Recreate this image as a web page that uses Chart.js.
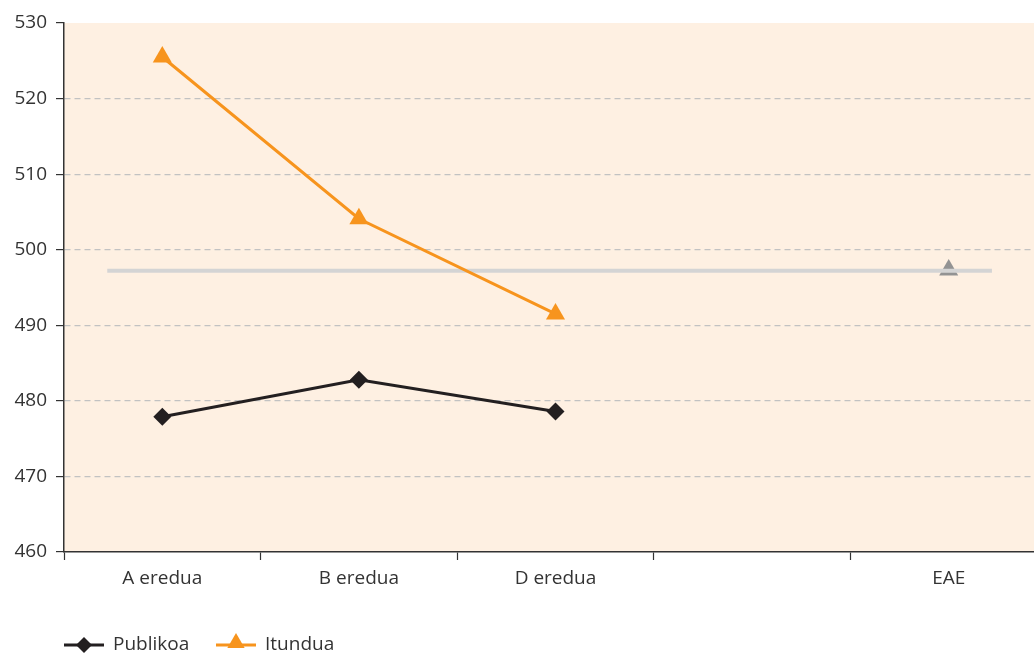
<!DOCTYPE html>
<html>
<head>
<meta charset="utf-8">
<script src="https://cdn.jsdelivr.net/npm/chart.js@4.4.0/dist/chart.umd.min.js"></script>
<style>
  html, body { margin: 0; padding: 0; background: #ffffff; overflow: hidden; }
  #wrap { width: 1058px; height: 655px; position: relative; }
</style>
</head>
<body>
<div id="wrap"><canvas id="eredua"></canvas></div>
<script>
const categories = ["A eredua", "B eredua", "D eredua", "", "EAE"];
const publikoa = [477.9, 482.8, 478.6, null, null];
const itundua = [525.5, 504.1, 491.5, null, null];
const eaePoint = [null, null, null, null, 497.3];
const eaeMean = 497.2;
const eaeLineFrom = -0.28;
const eaeLineTo = 4.22;
const yTicks = [460, 470, 480, 490, 500, 510, 520, 530];

const textColor = "#333333";
const fontFamily = "'Open Sans', 'DejaVu Sans', sans-serif";

const plotBackground = {
  id: "plotBackground",
  beforeDraw(chart) {
    const { ctx, chartArea } = chart;
    ctx.save();
    ctx.fillStyle = "#fef0e2";
    ctx.fillRect(chartArea.left, chartArea.top, chartArea.right - chartArea.left, chartArea.bottom - chartArea.top);
    ctx.restore();
  },
};

function drawMarker(ctx, style, x, y, r) {
  ctx.beginPath();
  if (style === "rectRot") {
    ctx.moveTo(x - r, y);
    ctx.lineTo(x, y - r);
    ctx.lineTo(x + r, y);
    ctx.lineTo(x, y + r);
  } else {
    ctx.moveTo(x, y - r);
    ctx.lineTo(x + r * 0.866, y + r * 0.5);
    ctx.lineTo(x - r * 0.866, y + r * 0.5);
  }
  ctx.closePath();
  ctx.fill();
}

const bottomLegend = {
  id: "bottomLegend",
  afterDraw(chart) {
    const { ctx, chartArea } = chart;
    const y = chartArea.bottom + 93;
    const items = [
      { text: "Publikoa", color: "#231f20", style: "rectRot", r: 8, x: 64 },
      { text: "Itundua", color: "#f7941d", style: "triangle", r: 10, x: 216 },
    ];
    ctx.save();
    ctx.font = "19px " + fontFamily;
    ctx.textBaseline = "middle";
    items.forEach((it) => {
      ctx.strokeStyle = it.color;
      ctx.fillStyle = it.color;
      ctx.lineWidth = 3;
      ctx.beginPath();
      ctx.moveTo(it.x, y);
      ctx.lineTo(it.x + 40, y);
      ctx.stroke();
      drawMarker(ctx, it.style, it.x + 20, it.style === "triangle" ? y - 2 : y, it.r);
      ctx.fillStyle = textColor;
      ctx.fillText(it.text, it.x + 49, y);
    });
    ctx.restore();
  },
};

const ctx = document.getElementById("eredua");

new Chart(ctx, {
  type: "line",
  data: {
    labels: categories,
    datasets: [
      {
        label: "Publikoa",
        data: publikoa,
        borderColor: "#231f20",
        backgroundColor: "#231f20",
        borderWidth: 3,
        pointStyle: "rectRot",
        pointRadius: 9,
        pointBorderWidth: 0,
        xAxisID: "x",
      },
      {
        label: "Itundua",
        data: itundua,
        borderColor: "#f7941d",
        backgroundColor: "#f7941d",
        borderWidth: 3,
        pointStyle: "triangle",
        pointRadius: 11,
        pointBorderWidth: 0,
        xAxisID: "x",
      },
      {
        label: "EAE batez bestekoa",
        data: [
          { x: eaeLineFrom, y: eaeMean },
          { x: eaeLineTo, y: eaeMean },
        ],
        borderColor: "#d4d4d4",
        borderWidth: 4,
        pointRadius: 0,
        xAxisID: "x2",
      },
      {
        label: "EAE",
        data: eaePoint,
        borderColor: "#939393",
        backgroundColor: "#939393",
        showLine: false,
        pointStyle: "triangle",
        pointRadius: 11,
        pointBorderWidth: 0,
        xAxisID: "x",
      },
    ],
  },
  options: {
    responsive: true,
    maintainAspectRatio: false,
    animation: false,
    layout: {
      padding: { top: 23, right: 0, bottom: 43, left: 0 },
    },
    plugins: {
      legend: { display: false },
      tooltip: { enabled: false },
    },
    scales: {
      x: {
        type: "category",
        offset: true,
        grid: {
          offset: true,
          drawOnChartArea: false,
          tickLength: 8,
          tickColor: "#333333",
          tickWidth: 1.2,
        },
        border: { color: "#333333", width: 1.5 },
        ticks: {
          color: textColor,
          padding: 7,
          maxRotation: 0,
          font: { family: fontFamily, size: 19 },
        },
        afterFit(scale) {
          scale.height = 60;
        },
      },
      x2: {
        type: "linear",
        display: false,
        min: -0.5,
        max: 4.5,
      },
      y: {
        min: 460,
        max: 530,
        afterBuildTicks(scale) {
          scale.ticks = yTicks.map((v) => ({ value: v }));
        },
        grid: {
          color: (c) => (c.tick && (c.tick.value === 530 || c.tick.value === 460) ? "rgba(0,0,0,0)" : "#c2c2c2"),
          lineWidth: 1.2,
          tickLength: 8,
          tickColor: "#333333",
          tickBorderDash: [],
          tickWidth: 1.2,
        },
        border: { color: "#333333", width: 1.5, dash: [6, 4] },
        ticks: {
          color: textColor,
          padding: 9,
          font: { family: fontFamily, size: 19 },
        },
        afterFit(scale) {
          scale.width = 64;
        },
      },
    },
  },
  plugins: [plotBackground, bottomLegend],
});
</script>
</body>
</html>
